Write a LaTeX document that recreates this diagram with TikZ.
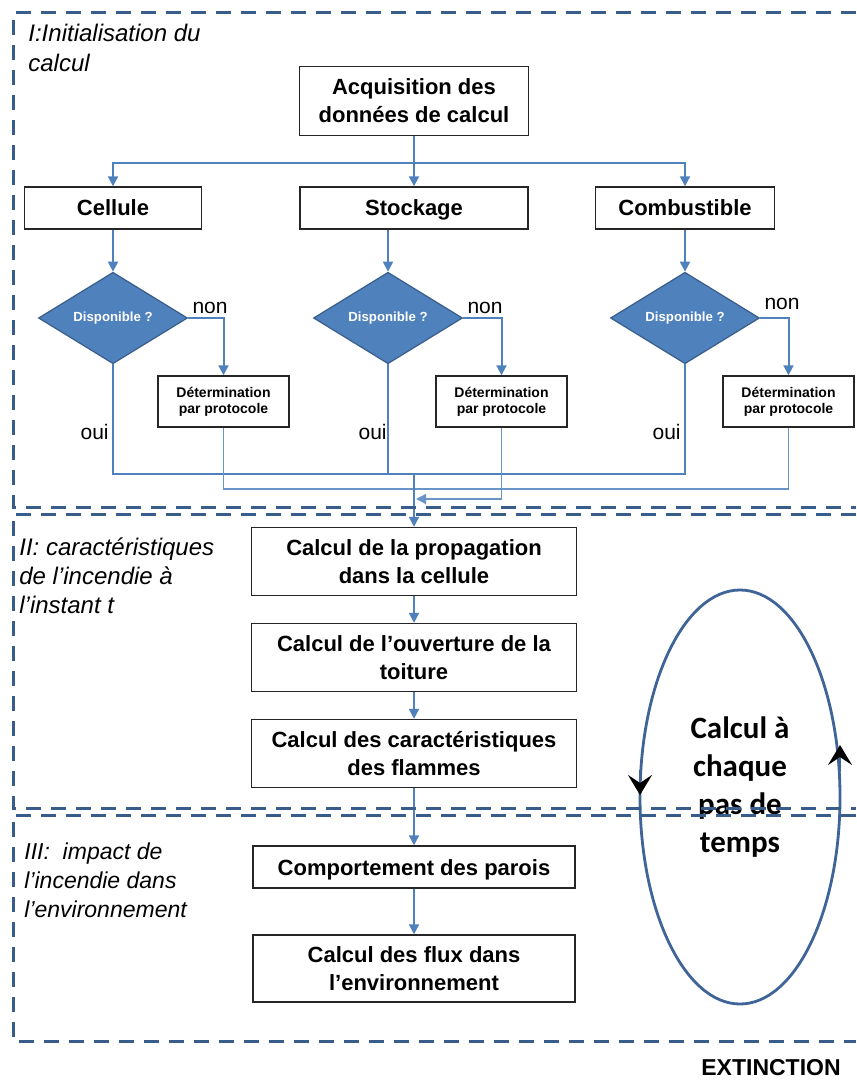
\documentclass[tikz,border=0pt]{standalone}
\usepackage{fontspec}
\setmainfont{Liberation Sans}
\newfontfamily\loopfont{Carlito}
\usetikzlibrary{arrows.meta,shapes.geometric}
\definecolor{flowblue}{RGB}{79,129,189}
\definecolor{edgeblue}{RGB}{56,93,138}
\definecolor{phaseblue}{RGB}{56,93,138}
\definecolor{loopblue}{RGB}{62,100,152}

\begin{document}
\begin{tikzpicture}[x=0.5pt,y=-0.5pt,>=Stealth,
  stepbox/.style={draw=black!85,line width=0.7pt,fill=white,align=center,inner sep=0pt,
    font=\bfseries\fontsize{11}{14}\selectfont},
  onebox/.style={stepbox,minimum height=21pt,text height=8pt,text depth=0pt},
  protobox/.style={stepbox,font=\bfseries\fontsize{7}{8}\selectfont,
    minimum width=65.5pt,minimum height=25.5pt},
  query/.style={diamond,fill=flowblue,draw=edgeblue,line width=0.6pt,text=white,inner sep=0pt,
    minimum width=74.5pt,minimum height=34pt,font=\bfseries\fontsize{6.6}{8}\selectfont},
  wire/.style={flowblue,line width=1pt},
  flow/.style={wire,-{Triangle[width=5pt,length=5pt]}},
  thinwire/.style={flowblue!85,line width=0.7pt},
  answer/.style={font=\fontsize{10.5}{12}\selectfont,inner sep=2pt},
  phase/.style={phaseblue,line width=1.5pt,dash pattern=on 7.5pt off 5pt},
  phaselabel/.style={anchor=north west,align=left,inner sep=0pt,
    font=\itshape\fontsize{12}{14.5}\selectfont}]
  \useasboundingbox (0,0) rectangle (856,1080);

  % I: initialisation
  \node[stepbox,minimum width=114.5pt,minimum height=34.5pt] (acq) at (414,101)
    {Acquisition des\\donn\'ees de calcul};
  \node[onebox,minimum width=88.5pt] (cel) at (113,208) {Cellule};
  \node[onebox,minimum width=114pt] (sto) at (414,208) {Stockage};
  \node[onebox,minimum width=89.5pt] (com) at (685,208) {Combustible};

  \node[query] (D1) at (113,318) {Disponible ?};
  \node[query] (D2) at (388,318) {Disponible ?};
  \node[query] (D3) at (685,318) {Disponible ?};

  \node[protobox] (P1) at (223.5,401.5) {D\'etermination\\par protocole};
  \node[protobox] (P2) at (501.5,401.5) {D\'etermination\\par protocole};
  \node[protobox] (P3) at (788.5,401.5) {D\'etermination\\par protocole};

  \coordinate (split) at (414,163);
  \coordinate (ouibus) at (414,474);
  \coordinate (detbus) at (414,489);
  \coordinate (detin) at (416,499);

  \draw[wire] (acq) -- (split);
  \draw[flow] (split) -| (cel);
  \draw[flow] (split) -- (sto);
  \draw[flow] (split) -| (com);
  \draw[flow] (cel) -- (D1);
  \draw[flow] (D2 |- sto.south) -- (D2);
  \draw[flow] (com) -- (D3);

  \draw[flow] (D1) -| (P1);
  \draw[flow] (D2) -| (P2);
  \draw[flow] (D3) -| (P3);
  \node[answer,above right] at (D1.east) {non};
  \node[answer,above right] at (D2.east) {non};
  \node[answer,above right,yshift=2] at (D3.east) {non};

  \draw[wire] (D1) |- (ouibus);
  \draw[wire] (D2) |- (ouibus);
  \draw[wire] (D3) |- (ouibus);
  \node[answer,left] at (D1.south |- 0,432) {oui};
  \node[answer,left,inner sep=0.5pt] at (D2.south |- 0,432) {oui};
  \node[answer,left] at (D3.south |- 0,432) {oui};

  \draw[thinwire] (P1) |- (detbus);
  \draw[thinwire] (P3) |- (detbus);
  \draw[thinwire,-{Triangle[width=5pt,length=5pt]}] (P2) |- (detin);

  % II: caracteristiques
  \node[stepbox,minimum width=162.5pt,minimum height=34pt] (C1) at (414,561.5)
    {Calcul de la propagation\\dans la cellule};
  \node[stepbox,minimum width=162.5pt,minimum height=34pt] (C2) at (414,657.5)
    {Calcul de l'ouverture de la\\toiture};
  \node[stepbox,minimum width=162.5pt,minimum height=34pt] (C3) at (414,753.5)
    {Calcul des caract\'eristiques\\des flammes};

  % III: impact
  \node[onebox,minimum width=161pt] (C4) at (414,867)
    {Comportement des parois};
  \node[stepbox,minimum width=161pt,minimum height=33.5pt] (C5) at (414,968.5)
    {Calcul des flux dans\\l'environnement};

  \draw[flow] (ouibus) -- (C1);
  \draw[flow] (C1) -- (C2);
  \draw[flow] (C2) -- (C3);
  \draw[flow] (C3) -- (C4);
  \draw[flow] (C4) -- (C5);

  % time loop
  \draw[loopblue,line width=1.4pt] (740,797) ellipse [x radius=100,y radius=207];
  \draw[loopblue,line width=1.4pt,-{Stealth[length=10pt,width=12pt,inset=4pt,black]}]
    (640,770) -- (640,795);
  \draw[loopblue,line width=1.4pt,-{Stealth[length=10pt,width=12pt,inset=4pt,black]}]
    (840,772) -- (840,745);
  \node[align=center,inner sep=0pt,font=\loopfont\bfseries\fontsize{15.5}{19}\selectfont]
    (cycle) at (740,787) {Calcul \`a\\chaque\\pas de\\temps};

  \node[inner sep=0pt,font=\bfseries\fontsize{11.5}{14}\selectfont] (ext) at (771,1068) {EXTINCTION};

  % phases
  \node[phaselabel,font=\itshape\fontsize{12}{15}\selectfont] (lab1) at (28,24) {I:Initialisation du\\calcul};
  \node[phaselabel] (lab2) at (19,537) {II: caract\'eristiques\\de l'incendie \`a\\l'instant t};
  \node[phaselabel,font=\itshape\fontsize{11.5}{14.5}\selectfont] (lab3) at (24,842)
    {III:\ \ impact de\\l'incendie dans\\l'environnement};

  \draw[phase] (856,13) -- (13,13) -- (13,507) -- (856,507);
  \draw[phase] (856,514) -- (13,514) -- (13,808) -- (856,808);
  \draw[phase] (856,815) -- (13,815) -- (13,1041) -- (856,1041);
\end{tikzpicture}
\end{document}
